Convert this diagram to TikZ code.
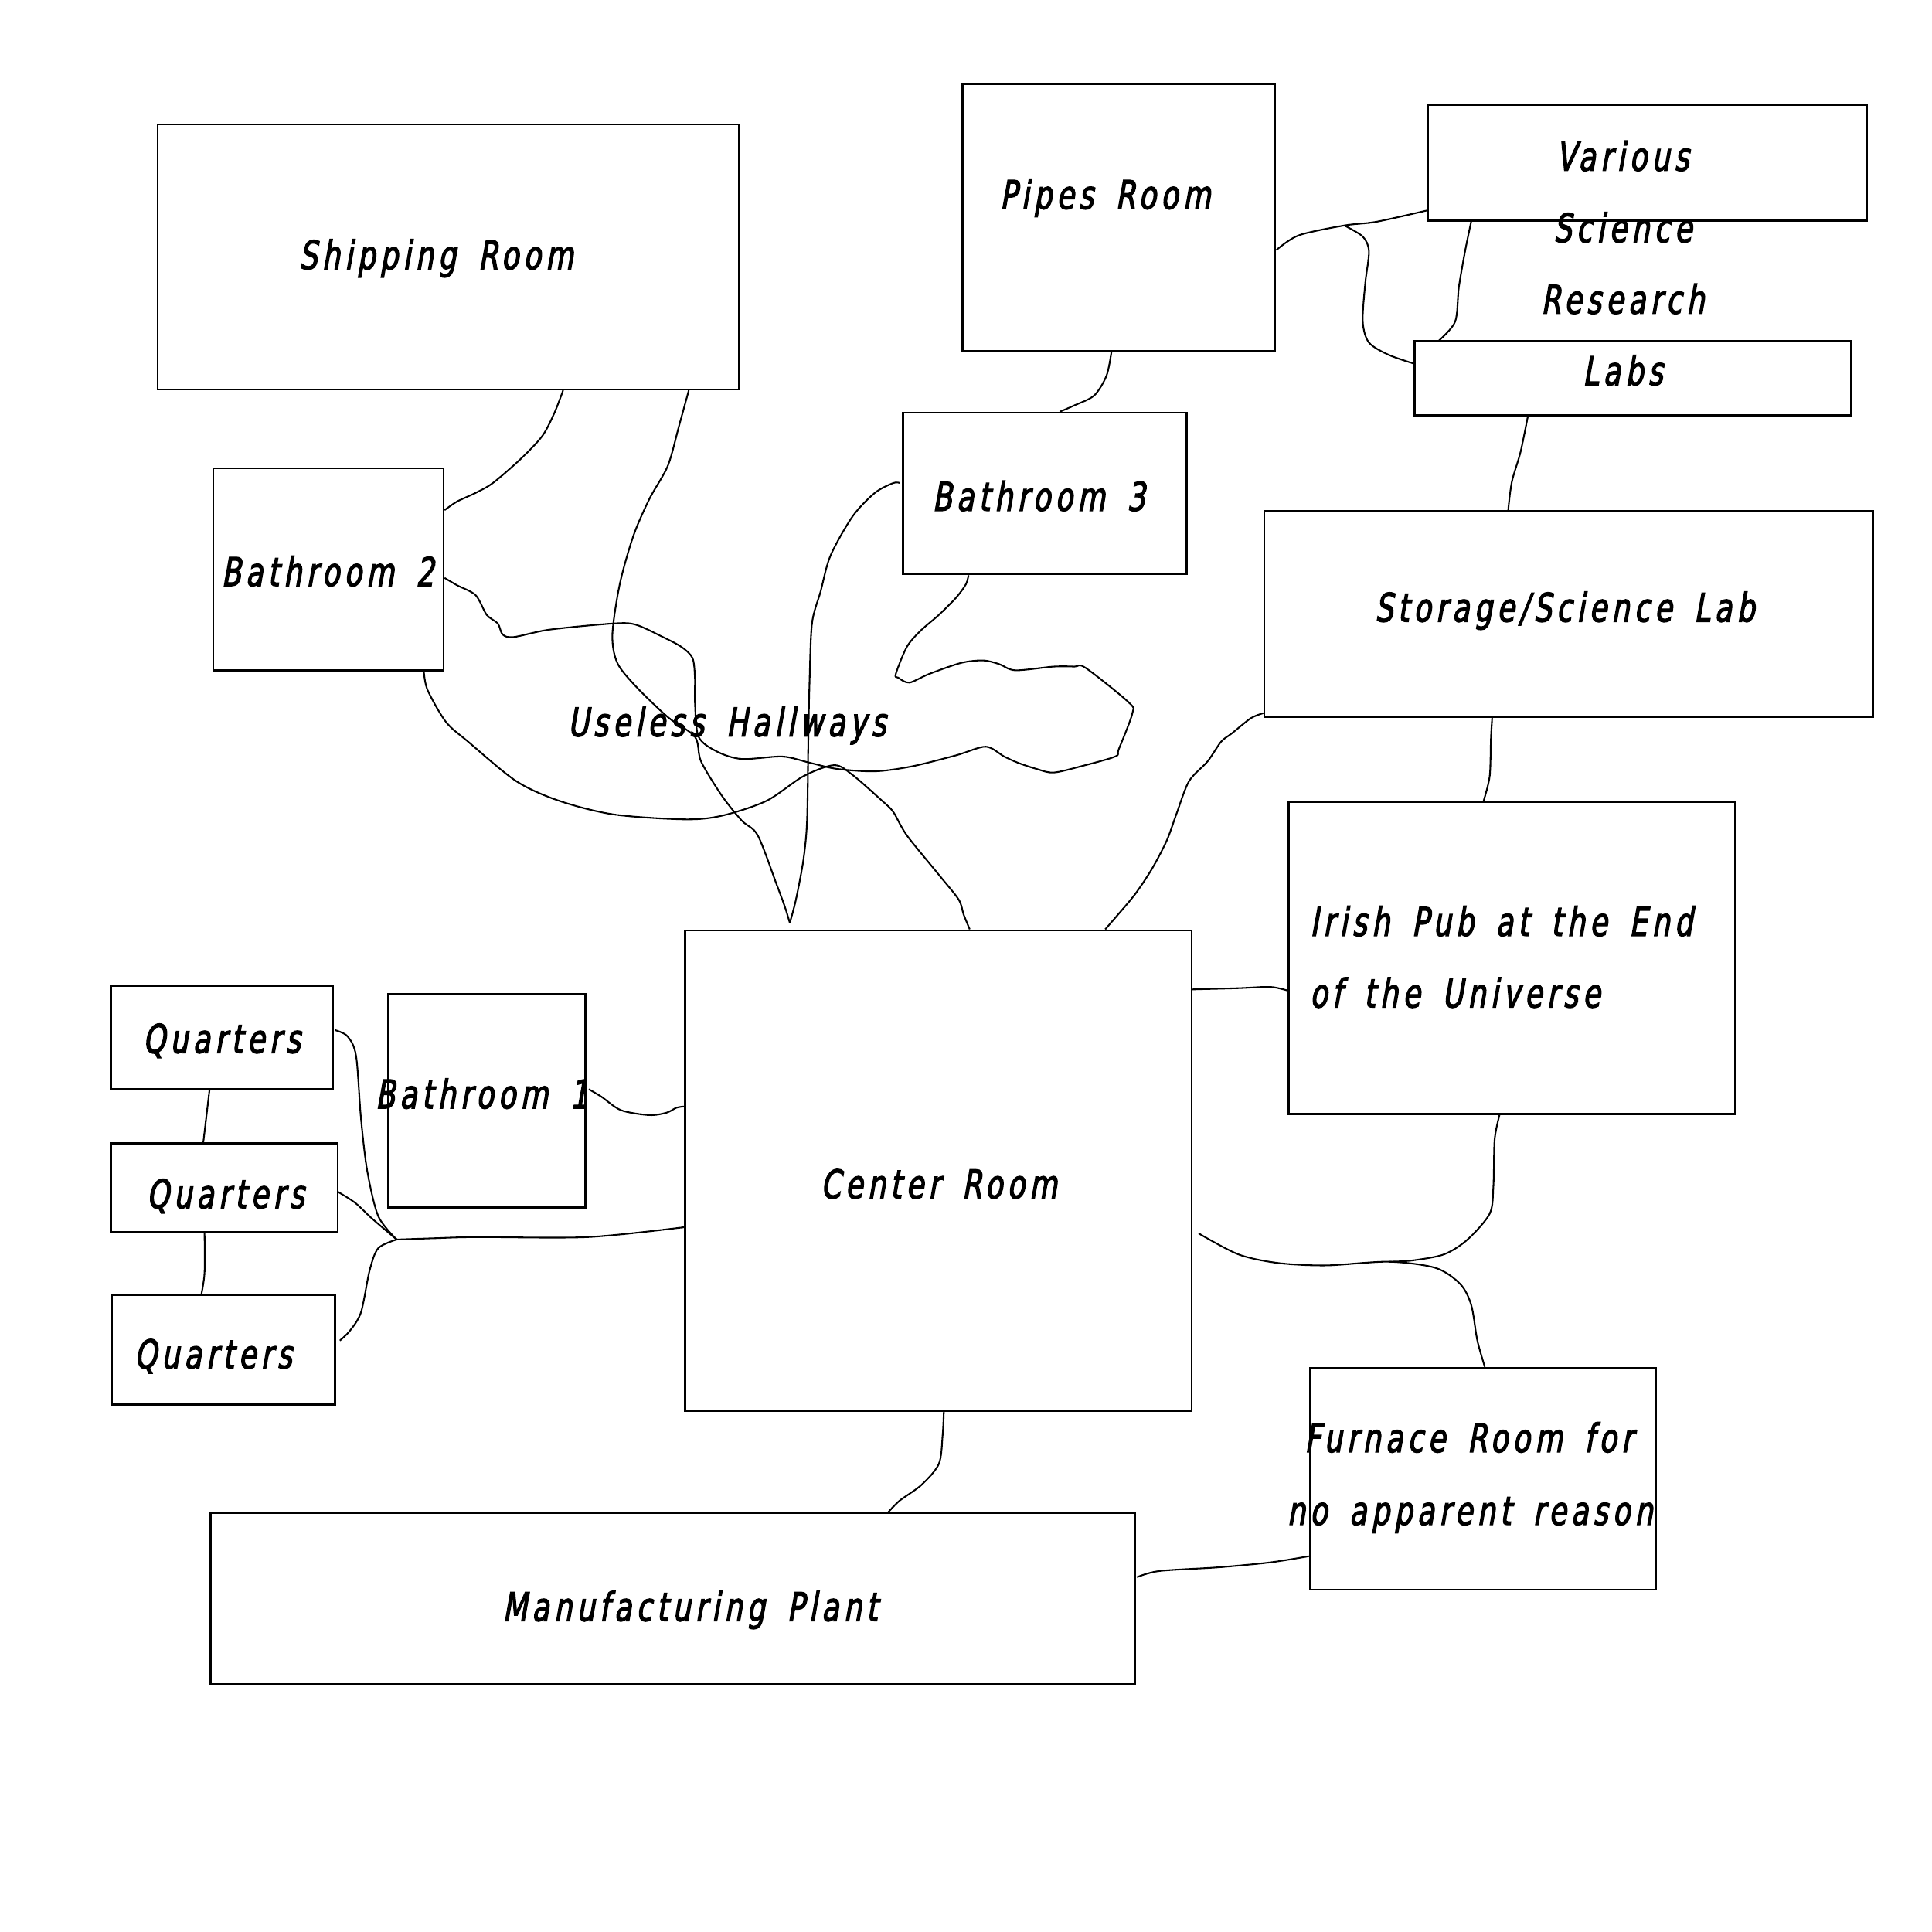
\documentclass[tikz,border=0pt]{standalone}
\usepackage{fontspec}
\newfontfamily\roomfont{DejaVu Sans}[FakeSlant=0.18,FakeStretch=0.72,FakeBold=2.5,LetterSpace=12,WordSpace=1.6]
\usetikzlibrary{calc}

\tikzset{
  room/.style={draw, rectangle, line width=1.6pt, inner sep=0pt},
  lbl/.style={font={\roomfont\fontsize{32}{38}\selectfont}, inner sep=0pt, text height=23pt, text depth=0pt},
  hall/.style={line width=1.3pt},
}

\begin{document}
\begin{tikzpicture}[x=1pt,y=-1pt]

\useasboundingbox (0,0) rectangle (1568,1568); % page

% Rooms
\node[room, minimum width=472pt, minimum height=215pt] (ship) at (364,208.5) {}; % Shipping Room
\node[room, minimum width=254pt, minimum height=217pt] (pipes) at (908,176.5) {}; % Pipes Room
\node[room, minimum width=356pt, minimum height=94pt] (various) at (1337,132) {}; % Science labs - top
\node[room, minimum width=354pt, minimum height=60pt] (labs) at (1325,307) {}; % Science labs - bottom
\node[room, minimum width=187pt, minimum height=164pt] (bath2) at (266.5,462) {}; % Bathroom 2
\node[room, minimum width=230pt, minimum height=131pt] (bath3) at (848,400.5) {}; % Bathroom 3
\node[room, minimum width=494pt, minimum height=167pt] (storage) at (1273,498.5) {}; % Storage
\node[room, minimum width=362pt, minimum height=253pt] (pub) at (1227,777.5) {}; % Irish Pub
\node[room, minimum width=411pt, minimum height=390pt] (center) at (761.5,950) {}; % Center Room
\node[room, minimum width=180pt, minimum height=84pt] (quartA) at (180,842) {}; % Quarters - top
\node[room, minimum width=184pt, minimum height=72pt] (quartB) at (182,964) {}; % Quarters - middle
\node[room, minimum width=181pt, minimum height=89pt] (quartC) at (181.5,1095.5) {}; % Quarters - bottom
\node[room, minimum width=160pt, minimum height=173pt] (bath1) at (395,893.5) {}; % Bathroom 1
\node[room, minimum width=750pt, minimum height=139pt] (plant) at (546,1297.5) {}; % Manufacturing Plant
\node[room, minimum width=281pt, minimum height=180pt] (furnace) at (1203.5,1200) {}; % Furnace Room

% Room names
\node[lbl] (shiptxt) at (354,207) {Shipping Room};
\node[lbl] (pipestxt) at (897,158) {Pipes Room};
\foreach \w [count=\i] in {Various,Science,Research,Labs}
  \node[lbl] (labtxt\i) at (1317,{69+58*\i}) {\w};
\node[lbl] (bath2txt) at (266,464) {Bathroom 2};
\node[lbl] (bath3txt) at (843,403) {Bathroom 3};
\node[lbl] (storetxt) at (1270,493) {Storage/Science Lab};
\node[lbl] (halltxt) at (590,586) {Useless Hallways};
\node[lbl, anchor=west] (pubtxtA) at (1063,748) {Irish Pub at the End};
\node[lbl, anchor=west] (pubtxtB) at (1063,806) {of the Universe};
\node[lbl] (quartAtxt) at (180,843) {Quarters};
\node[lbl] (quartBtxt) at (183,969) {Quarters};
\node[lbl] (quartCtxt) at (173,1099) {Quarters};
\node[lbl] (bath1txt) at (391,888) {Bathroom 1};
\node[lbl] (centertxt) at (762,961) {Center Room};
\node[lbl] (furntxtA) at (1192,1167) {Furnace Room for};
\node[lbl] (furntxtB) at (1193,1226) {no apparent reason};
\node[lbl] (planttxt) at (560,1304) {Manufacturing Plant};

% Meeting points of the hallways
\coordinate (tip) at (641,749);
\coordinate (forkA) at (1091,183);
\coordinate (forkB) at (1127,1024);
\coordinate (forkC) at (322,1006);

% Hallways
\draw[hall] plot[smooth, tension=.5] coordinates {($(ship.south)+(93,0)$) (450,335) (440,354) (422,373) (400,392) (386,400) (371,407) ($(bath2.east)+(0,-48)$)};
\draw[hall] plot[smooth, tension=.5] coordinates {($(ship.south)+(195,0)$) (551,346) (542,378) (527,405) (514,435) (503,474) (497,515) (501,538) (516,557) (542,582) (564,598) (569,618) (586,646) (602,666) (615,678) (630,717) (637,736) (tip)};
\draw[hall] plot[smooth, tension=.5] coordinates {($(bath3.west)+(-2,-8.5)$) (725,392) (710,400) (692,419) (674,451) (666,480) (659,506) (657,554) (656,602) (655,666) (652,698) (646,730) (tip)};
\draw[hall] plot[smooth, tension=.5] coordinates {($(bath2.east)+(0,7)$) (371,475) (386,483) (395,499) (404,506) (408,515) (417,517) (446,511) (498,506) (516,507) (538,517) (553,525) (562,534) (564,550) (564,570) (567,598) (582,610) (602,616) (635,614) (657,619) (679,624) (710,626) (740,622) (776,613) (800,606) (815,614) (826,619) (841,624) (855,627) (877,622) (905,614) (908,608) (919,579) (916,570) (881,542) (872,541) (855,541) (824,544) (811,539) (798,536) (780,538) (754,547) (738,554) (729,550) (727,547) (736,525) (747,512) (762,499) (776,485) (784,474) ($(bath3.south)+(-62,0)$)};
\draw[hall] plot[smooth, tension=.5] coordinates {($(bath2.south)+(77.5,0)$) (347,560) (362,586) (380,602) (419,634) (454,650) (498,661) (556,665) (586,662) (622,650) (652,630) (677,621) (692,629) (716,650) (725,659) (736,678) (762,710) (778,730) (782,742) ($(center.north)+(25.5,0)$)};
\draw[hall] plot[smooth, tension=.5] coordinates {($(storage.south west)+(0,-4)$) (1015,583) (1000,595) (991,602) (980,618) (965,634) (955,660) (947,682) (935,705) (921,726) (905,745) ($(center.north)+(135.5,0)$)};
\draw[hall] plot[smooth, tension=.5] coordinates {($(pipes.south)+(-6,0)$) (898,305) (888,321) (872,329) ($(bath3.north)+(12,0)$)};
\draw[hall] plot[smooth, tension=.5] coordinates {($(pipes.east)+(0,26.5)$) (1054,191) (forkA) (1117,180) ($(various.south west)+(0,-9)$)};
\draw[hall] plot[smooth, tension=.5] coordinates {(forkA) (1106,192) (1111,204) (1108,230) (1106,261) (1111,278) (1127,288) ($(labs.west)+(0,-12)$)};
\draw[hall] plot[smooth, tension=.5] coordinates {($(various.south)+(-143,0)$) (1189,204) (1184,233) (1181,261) ($(labs.north)+(-157,0)$)};
\draw[hall] plot[smooth, tension=.5] coordinates {($(labs.south)+(-85,0)$) (1234,367) (1227,391) ($(storage.north)+(-49,0)$)};
\draw[hall] plot[smooth, tension=.5] coordinates {($(storage.south)+(-62,0)$) (1210,600) (1209,630) ($(pub.north)+(-23,0)$)};
\draw[hall] plot[smooth, tension=.5] coordinates {($(center.east)+(0,-147)$) (1005,802) (1031,801) ($(pub.west)+(0,26.5)$)};
\draw[hall] plot[smooth, tension=.5] coordinates {($(center.east)+(5,51)$) (1005,1018) (1037,1025) (1076,1027) (forkB) (1165,1029) (1185,1042) (1194,1059) (1199,1088) ($(furnace.north)+(1.5,0)$)};
\draw[hall] plot[smooth, tension=.5] coordinates {($(pub.south)+(-10,0)$) (1213,925) (1212,963) (1209,985) (1191,1006) (1172,1018) (1146,1023) (forkB)};
\draw[hall] plot[smooth, tension=.5] coordinates {($(plant.east)+(1,-17.5)$) (941,1275) (989,1272) (1031,1268) ($(furnace.west)+(0,63)$)};
\draw[hall] plot[smooth, tension=.5] coordinates {($(center.south)+(4.5,0)$) (765,1165) (762,1188) (748,1205) (730,1218) ($(plant.north)+(175,0)$)};
\draw[hall] plot[smooth, tension=.5] coordinates {($(bath1.east)+(2,-9.5)$) (488,890) (504,901) (527,905) (541,903) (549,899) ($(center.west)+(0,-52)$)};
\draw[hall] plot[smooth, tension=.5] coordinates {($(center.west)+(0,46)$) (477,1004) (387,1004) (351,1005) (forkC)};
\draw[hall] plot[smooth, tension=.5] coordinates {(forkC) (307,987) (298,950) (293,908) (289,857) (282,841) ($(quartA.east)+(1,-6)$)};
\draw[hall] plot[smooth, tension=.5] coordinates {(forkC) (302,989) (288,976) ($(quartB.east)+(-1,3)$)};
\draw[hall] plot[smooth, tension=.5] coordinates {(forkC) (307,1013) (300,1031) (293,1065) (284,1080) ($(quartC.east)+(3,-7.5)$)};
\draw[hall] ($(quartA.south)+(-10,0)$) -- ($(quartB.north)+(-17,0)$);
\draw[hall] plot[smooth, tension=.5] coordinates {($(quartB.south)+(-16,0)$) (166,1033) ($(quartC.north)+(-18,0)$)};

\end{tikzpicture}
\end{document}
